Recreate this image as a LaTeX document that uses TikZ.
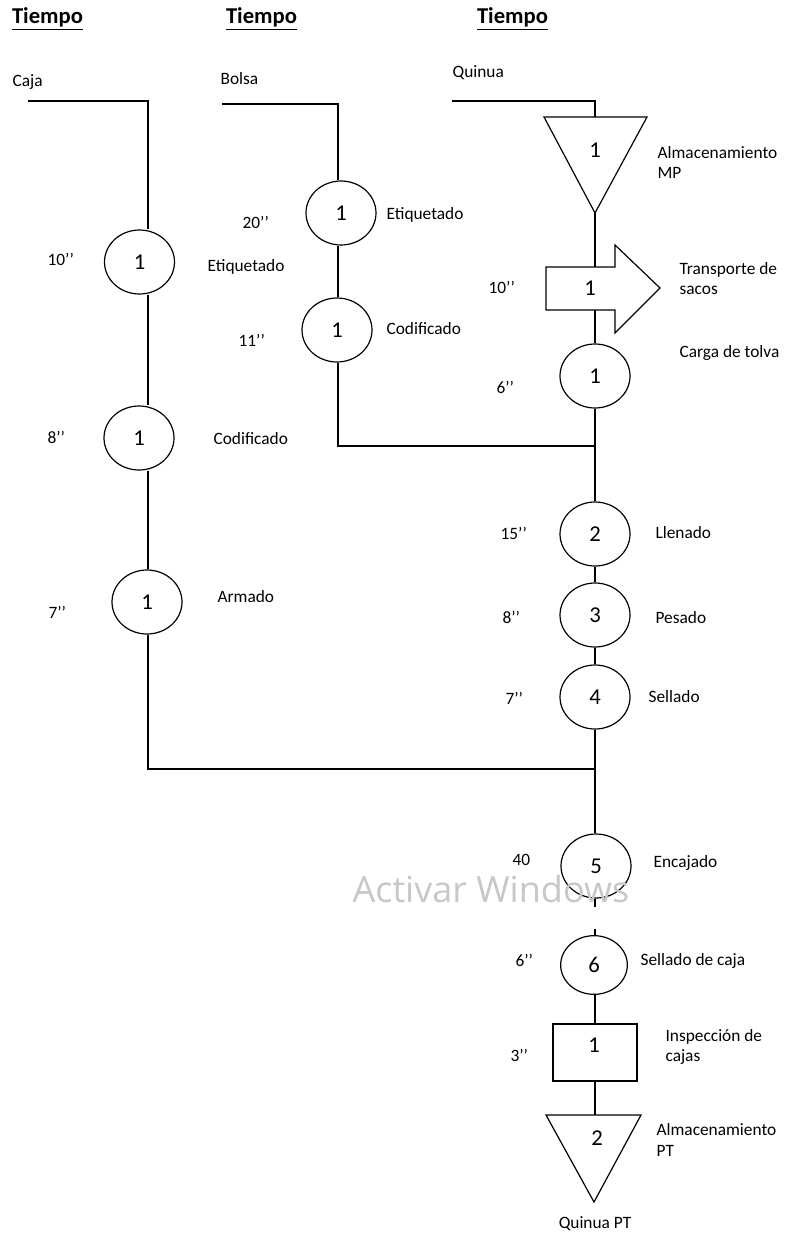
\documentclass[tikz,border=0pt]{standalone}
\usepackage{fontspec}
\setmainfont{Carlito}
\newfontfamily\wmfont{Open Sans}
\usetikzlibrary{shapes.geometric}
\begin{document}
\begin{tikzpicture}[x=0.75pt,y=-0.75pt,line width=0.9pt,
  proc/.style={draw,ellipse,minimum width=52.5pt,minimum height=48pt,inner sep=0pt,font=\fontsize{17}{20}\selectfont},
  lbl/.style={anchor=west,inner sep=0pt,font=\fontsize{13}{15.5}\selectfont,align=left},
  hdr/.style={inner sep=0pt,font=\fontsize{17}{20}\selectfont\bfseries},
  num/.style={inner sep=0pt,font=\fontsize{17}{20}\selectfont},
  box/.style={draw,rectangle,minimum width=63pt,minimum height=42.75pt,inner sep=0pt,font=\fontsize{17}{20}\selectfont}]
\useasboundingbox (0,0) rectangle (790,1234);

% headers
\node[hdr] (h1) at (47.5,19) {\underline{Tiempo}};
\node[hdr] (h2) at (261.5,19) {\underline{Tiempo}};
\node[hdr] (h3) at (512.5,19) {\underline{Tiempo}};

% ---------- column 1: Caja ----------
\node[lbl] (caja) at (12,82) {Caja};
\coordinate (k0) at (28,101);
\coordinate (k1) at (148,101);
\node[proc] (e1) at (139.5,262) {1};
\node[proc] (d1) at (139,438) {1};
\node[proc] (a1) at (147,602) {1};
\coordinate (k2) at (148,769);
\coordinate (j2) at (595,769);
\draw (k0) -- (k1) -- (k1 |- e1.north);
\draw (k1 |- e1.south) -- (k1 |- d1.north);
\draw (k1 |- d1.south) -- (k1 |- a1.north);
\draw (k1 |- a1.south) -- (k2) -- (j2);
\node[lbl] at (47,259) {10’’};
\node[lbl] at (207,267) {Etiquetado};
\node[lbl] at (47,437) {8’’};
\node[lbl] at (213,439) {Codificado};
\node[lbl] at (48,612) {7’’};
\node[lbl] at (217,597) {Armado};

% ---------- column 2: Bolsa ----------
\node[lbl] (bolsa) at (220,79) {Bolsa};
\coordinate (b0) at (222,104);
\coordinate (b1) at (338,104);
\node[proc] (e2) at (341,213) {1};
\node[proc] (d2) at (337,330) {1};
\coordinate (b2) at (338,446);
\coordinate (j1) at (595,446);
\draw (b0) -- (b1) -- (b1 |- e2.north);
\draw (b1 |- e2.south) -- (b1 |- d2.north);
\draw (b1 |- d2.south) -- (b2) -- (j1);
\node[lbl] at (242,222) {20’’};
\node[lbl] at (386,215) {Etiquetado};
\node[lbl] at (238,340) {11’’};
\node[lbl] at (386,329) {Codificado};

% ---------- column 3: Quinua ----------
\node[lbl] (quinua) at (452,73) {Quinua};
\coordinate (q0) at (452,101);
\coordinate (q1) at (595,101);
% storage triangle 1
\coordinate (t1top) at (595,117);
\coordinate (t1apex) at (595,213);
\draw (544,117) -- (647,117) -- (t1apex) -- cycle;
\node[num] (t1) at (595,150) {1};
\draw (q0) -- (q1) -- (t1top);
% transport arrow
\coordinate (artop) at (595,267);
\coordinate (arbot) at (595,310);
\draw (546,267) -- (615,267) -- (615,245) -- (660,288) -- (615,333) -- (615,310) -- (546,310) -- cycle;
\node[num] (ar) at (590,288) {1};
\draw (t1apex) -- (artop);
\node[proc] (ct) at (595,376) {1};
\draw (arbot) -- (ct.north);
\draw (ct.south) -- (j1);
\node[proc] (c2) at (595,534) {2};
\node[proc] (c3) at (595,615) {3};
\node[proc] (c4) at (595,697) {4};
\draw (j1) -- (c2.north);
\draw (c2.south) -- (c3.north);
\draw (c3.south) -- (c4.north);
\draw (c4.south) -- (j2);
\node[proc] (c5) at (596,866) {5};
\draw (j2) -- (j2 |- c5.north);
\coordinate (g1) at (595,907);
\coordinate (g2) at (595,929);
\node[proc,minimum width=50pt,minimum height=44pt] (c6) at (594,965) {6};
\draw (j2 |- c5.south) -- (g1);
\draw (g2) -- (g2 |- c6.north);
\node[box] (r1) at (595,1052.5) {};
\node[num] at (594,1045) {1};
\draw (g2 |- c6.south) -- (r1.north);
% storage triangle 2
\coordinate (t2top) at (595,1115);
\coordinate (t2apex) at (594,1202);
\draw (546,1115) -- (641,1115) -- (t2apex) -- cycle;
\node[num] (t2) at (597,1138) {2};
\draw (r1.south) -- (t2top);

% labels column 3
\node[lbl] at (657,162.5) {Almacenamiento\\MP};
\node[lbl] at (488,287) {10’’};
\node[lbl] at (679,278.5) {Transporte de\\sacos};
\node[lbl] at (679,353) {Carga de tolva};
\node[lbl] at (496,387) {6’’};
\node[lbl] at (500,533) {15’’};
\node[lbl] at (655,533) {Llenado};
\node[lbl] at (502,617) {8’’};
\node[lbl] at (655,618) {Pesado};
\node[lbl] at (505,698) {7’’};
\node[lbl] at (648,697) {Sellado};
\node[lbl] at (512,860) {40};
\node[lbl] at (653,863) {Encajado};
\node[lbl] at (515,960) {6’’};
\node[lbl] at (640,961) {Sellado de caja};
\node[lbl] at (510,1055) {3’’};
\node[lbl] at (665,1047) {Inspección de\\cajas};
\node[lbl] at (656,1140) {Almacenamiento\\PT};
\node[inner sep=0pt,font=\fontsize{13}{15.5}\selectfont] at (595,1224) {Quinua PT};

% watermark
\node[anchor=west,inner sep=0pt,text=black!22,font=\wmfont\fontsize{27}{30}\selectfont] at (352,889) {Activar Windows};
\end{tikzpicture}
\end{document}
